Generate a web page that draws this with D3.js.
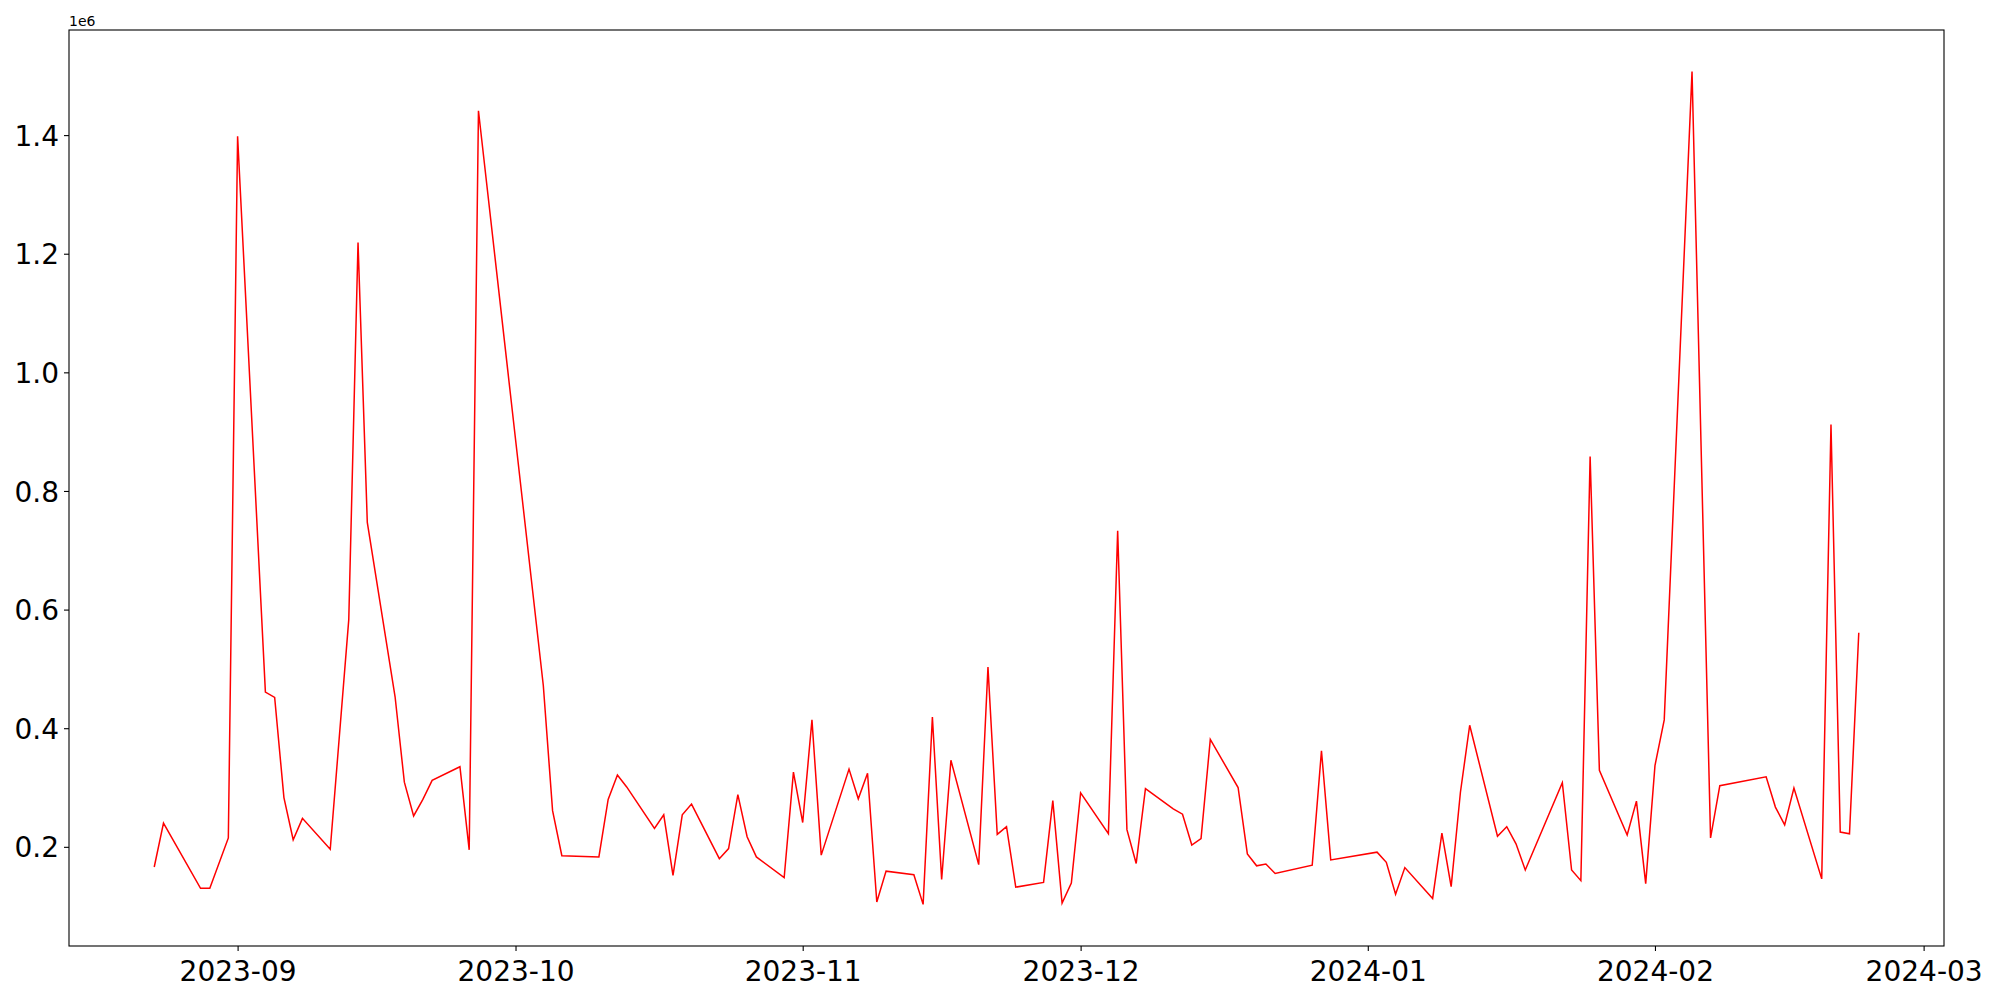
<!DOCTYPE html>
<html>
<head>
<meta charset="utf-8">
<script src="https://cdn.jsdelivr.net/npm/d3@7"></script>
<style>
    body { margin: 0; background: #fff; }
    svg { display: block; font-family: "DejaVu Sans", sans-serif; }
</style>
</head>
<body>
<div id="chart_div"></div>
<script>
// Daily values (in millions), one entry per trading day

var dates = [
    "2023-08-23", "2023-08-24", "2023-08-28", "2023-08-29", "2023-08-31", "2023-09-01",
    "2023-09-04", "2023-09-05", "2023-09-06", "2023-09-07", "2023-09-08", "2023-09-11",
    "2023-09-13", "2023-09-14", "2023-09-15", "2023-09-18", "2023-09-19", "2023-09-20",
    "2023-09-21", "2023-09-22", "2023-09-25", "2023-09-26", "2023-09-27", "2023-10-04",
    "2023-10-05", "2023-10-06", "2023-10-10", "2023-10-11", "2023-10-12", "2023-10-13",
    "2023-10-16", "2023-10-17", "2023-10-18", "2023-10-19", "2023-10-20", "2023-10-23",
    "2023-10-24", "2023-10-25", "2023-10-26", "2023-10-27", "2023-10-30", "2023-10-31",
    "2023-11-01", "2023-11-02", "2023-11-03", "2023-11-06", "2023-11-07", "2023-11-08",
    "2023-11-09", "2023-11-10", "2023-11-13", "2023-11-14", "2023-11-15", "2023-11-16",
    "2023-11-17", "2023-11-20", "2023-11-21", "2023-11-22", "2023-11-23", "2023-11-24",
    "2023-11-27", "2023-11-28", "2023-11-29", "2023-11-30", "2023-12-01", "2023-12-04",
    "2023-12-05", "2023-12-06", "2023-12-07", "2023-12-08", "2023-12-11", "2023-12-12",
    "2023-12-13", "2023-12-14", "2023-12-15", "2023-12-18", "2023-12-19", "2023-12-20",
    "2023-12-21", "2023-12-22", "2023-12-26", "2023-12-27", "2023-12-28", "2024-01-02",
    "2024-01-03", "2024-01-04", "2024-01-05", "2024-01-08", "2024-01-09", "2024-01-10",
    "2024-01-11", "2024-01-12", "2024-01-15", "2024-01-16", "2024-01-17", "2024-01-18",
    "2024-01-22", "2024-01-23", "2024-01-24", "2024-01-25", "2024-01-26", "2024-01-29",
    "2024-01-30", "2024-01-31", "2024-02-01", "2024-02-02", "2024-02-05", "2024-02-07",
    "2024-02-08", "2024-02-13", "2024-02-14", "2024-02-15", "2024-02-16", "2024-02-19",
    "2024-02-20", "2024-02-21", "2024-02-22", "2024-02-23"
];

var values = [
    0.166, 0.240, 0.130, 0.130, 0.215, 1.398,
    0.461, 0.452, 0.283, 0.212, 0.248, 0.196,
    0.583, 1.219, 0.747, 0.453, 0.309, 0.252,
    0.280, 0.312, 0.335, 0.195, 1.441, 0.472,
    0.261, 0.185, 0.183, 0.280, 0.321, 0.301,
    0.231, 0.254, 0.152, 0.254, 0.272, 0.180,
    0.197, 0.288, 0.217, 0.183, 0.148, 0.326,
    0.241, 0.414, 0.186, 0.331, 0.281, 0.324,
    0.107, 0.159, 0.153, 0.103, 0.419, 0.145,
    0.346, 0.170, 0.503, 0.221, 0.234, 0.132,
    0.140, 0.278, 0.105, 0.139, 0.291, 0.222,
    0.733, 0.229, 0.172, 0.298, 0.264, 0.255,
    0.203, 0.214, 0.381, 0.300, 0.188, 0.168,
    0.171, 0.155, 0.169, 0.362, 0.178, 0.191,
    0.174, 0.120, 0.165, 0.113, 0.223, 0.133,
    0.292, 0.405, 0.218, 0.234, 0.205, 0.161,
    0.308, 0.161, 0.143, 0.858, 0.329, 0.220,
    0.277, 0.138, 0.337, 0.414, 1.507, 0.215,
    0.303, 0.318, 0.267, 0.237, 0.299, 0.146,
    0.912, 0.225, 0.222, 0.561
];

// Tick labels
var xTicks = ["2023-09", "2023-10", "2023-11", "2023-12", "2024-01", "2024-02", "2024-03"];
var yTicks = [0.2, 0.4, 0.6, 0.8, 1.0, 1.2, 1.4];

// Set margins, height, width for SVG
var margin = {
    top: 30,
    right: 56,
    bottom: 54,
    left: 69
};
var width = 2000 - margin.left - margin.right;
var height = 1000 - margin.top - margin.bottom;

var parseDay = d3.utcParse("%Y-%m-%d");
var parseMonth = d3.utcParse("%Y-%m");

var data = dates.map(function (d, i) {
    return { date: parseDay(d), value: values[i] };
});

// Create SVG
var svg = d3.select("#chart_div").append("svg")
    .attr("width", width + margin.left + margin.right)
    .attr("height", height + margin.top + margin.bottom)
    .append("g")
    .attr("transform", "translate(" + margin.left + "," + margin.top + ")");

// Set scaling with matplotlib-like 5% margins
var xExt = d3.extent(data, function (d) { return d.date; });
var xPad = (xExt[1] - xExt[0]) * 0.05;
var x = d3.scaleUtc()
    .domain([new Date(+xExt[0] - xPad), new Date(+xExt[1] + xPad)])
    .range([0, width]);

var yExt = d3.extent(data, function (d) { return d.value; });
var yPad = (yExt[1] - yExt[0]) * 0.05;
var y = d3.scaleLinear()
    .domain([yExt[0] - yPad, yExt[1] + yPad])
    .range([height, 0]);

// Line
var line = d3.line()
    .x(function (d) { return x(d.date); })
    .y(function (d) { return y(d.value); });

svg.append("path")
    .datum(data)
    .attr("fill", "none")
    .attr("stroke", "#ff0000")
    .attr("stroke-width", 1.5)
    .attr("stroke-linejoin", "miter")
    .attr("d", line);

// Axes
var xAxis = svg.append("g")
    .attr("transform", "translate(0," + height + ")")
    .call(d3.axisBottom(x)
        .tickValues(xTicks.map(parseMonth))
        .tickFormat(d3.utcFormat("%Y-%m"))
        .tickSize(5)
        .tickPadding(5)
        .tickSizeOuter(0));

var yAxis = svg.append("g")
    .call(d3.axisLeft(y)
        .tickValues(yTicks)
        .tickFormat(d3.format(".1f"))
        .tickSize(5)
        .tickPadding(5)
        .tickSizeOuter(0));

svg.selectAll(".domain").remove();
svg.selectAll(".tick line")
    .attr("stroke", "#000")
    .attr("stroke-width", 1.1);
svg.selectAll(".tick text")
    .attr("fill", "#000")
    .attr("font-family", "DejaVu Sans")
    .attr("font-size", "28px");
xAxis.selectAll(".tick text").attr("dy", "0.88em");
yAxis.selectAll(".tick text").attr("dy", "0.36em");

// Frame
svg.append("rect")
    .attr("width", width)
    .attr("height", height)
    .attr("fill", "none")
    .attr("stroke", "#000")
    .attr("stroke-width", 1.1);

// Offset text
svg.append("text")
    .attr("x", 0)
    .attr("y", -4)
    .attr("font-size", "14px")
    .attr("fill", "#000")
    .text("1e6");
</script>
</body>
</html>
